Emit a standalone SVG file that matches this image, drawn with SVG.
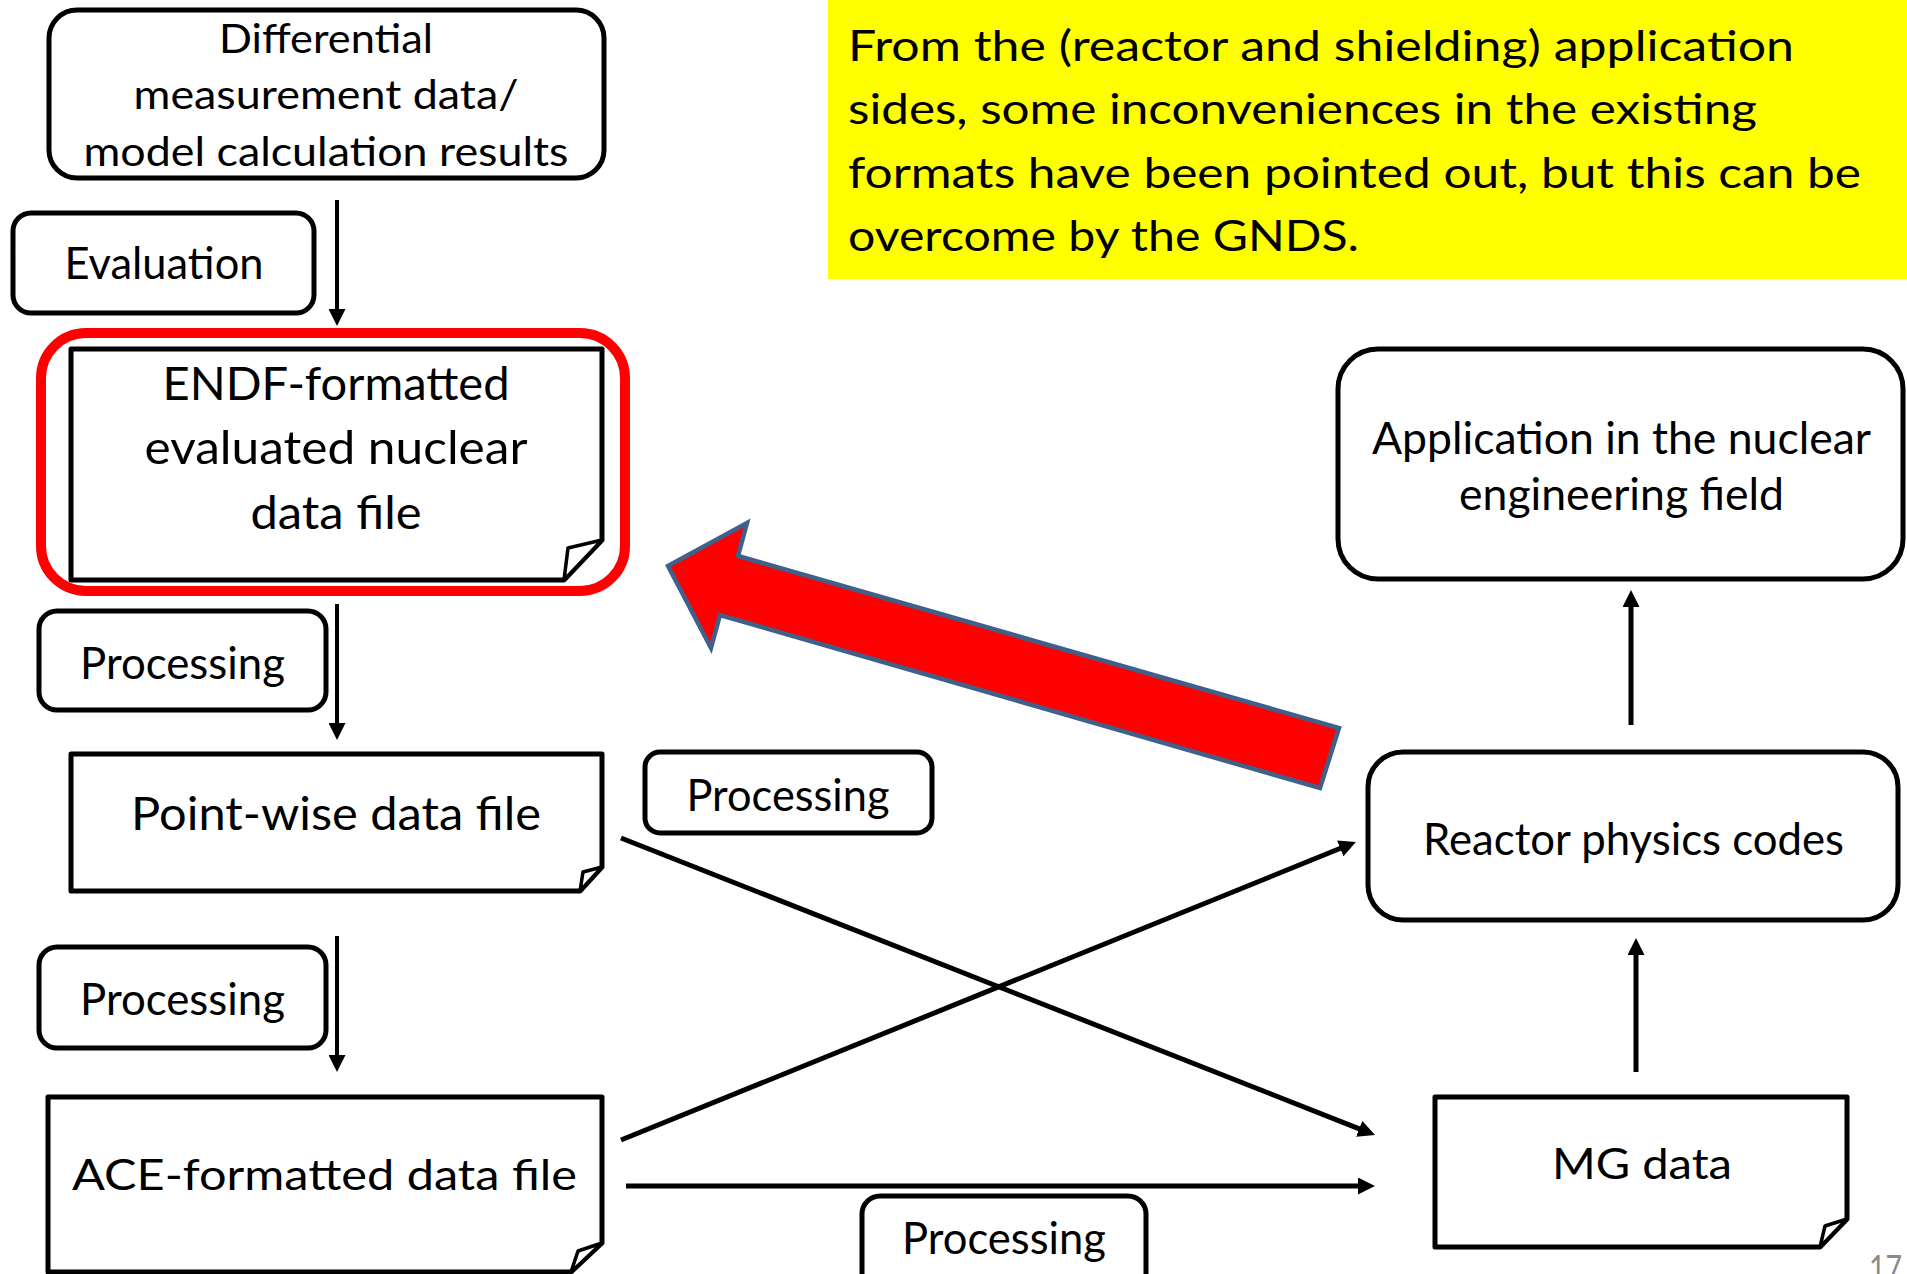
<svg xmlns="http://www.w3.org/2000/svg" width="1907" height="1274" viewBox="0 0 1907 1274">
  <style>
    .box { fill: #ffffff; stroke: #000000; stroke-width: 5; }
    .doc { fill: #ffffff; stroke: #000000; stroke-width: 5; stroke-linejoin: round; }
    .fold { fill: #ffffff; stroke: #000000; stroke-width: 3.5; stroke-linejoin: round; }
    .t { font-family: Lato, 'Liberation Sans', sans-serif; fill: #000000; text-anchor: middle; }
    .note { font-family: Lato, 'Liberation Sans', sans-serif; fill: #000000; font-size: 43px; }
    .conn { stroke: #000000; fill: none; }
    .v { stroke-width: 4; }
    .d { stroke-width: 5; }
  </style>
  <defs>
    <marker id="ah" markerUnits="userSpaceOnUse" viewBox="0 0 17 17" markerWidth="17" markerHeight="17" refX="7" refY="8.5" orient="auto">
      <path d="M0,0 L17,8.5 L0,17 Z" fill="#000000"/>
    </marker>
  </defs>

  <rect width="1907" height="1274" fill="#ffffff"/>

  <!-- remark box -->
  <g id="note">
    <rect x="828" y="0" width="1079" height="279" fill="#ffff00"/>
    <text class="note" x="848" y="61" textLength="946" lengthAdjust="spacingAndGlyphs">From the (reactor and shielding) application</text>
    <text class="note" x="848" y="124" textLength="909" lengthAdjust="spacingAndGlyphs">sides, some inconveniences in the existing</text>
    <text class="note" x="848" y="188" textLength="1013" lengthAdjust="spacingAndGlyphs">formats have been pointed out, but this can be</text>
    <text class="note" x="848" y="251" textLength="511" lengthAdjust="spacingAndGlyphs">overcome by the GNDS.</text>
  </g>

  <!-- connectors -->
  <g id="connectors">
    <path class="conn v" d="M337,200 V316" marker-end="url(#ah)"/>
    <path class="conn v" d="M337,604 V730" marker-end="url(#ah)"/>
    <path class="conn v" d="M337,936 V1062" marker-end="url(#ah)"/>
    <path class="conn d" d="M621,838 L1365.7,1131.3" marker-end="url(#ah)"/>
    <path class="conn d" d="M621,1140 L1346.7,845.8" marker-end="url(#ah)"/>
    <path class="conn d" d="M626,1186 H1365" marker-end="url(#ah)"/>
    <path class="conn d" d="M1636,1072 V948" marker-end="url(#ah)"/>
    <path class="conn d" d="M1631,725 V600" marker-end="url(#ah)"/>
  </g>

  <!-- highlight arrow pointing back to the ENDF file -->
  <g id="feedback-arrow">
    <polygon points="668,566 747,523 738,556 1339,728 1320,788 720,615 711,648" fill="#ff0000" stroke="#40608c" stroke-width="4.5" stroke-linejoin="miter"/>
  </g>

  <g id="measurement">
    <rect class="box" x="49" y="10" width="555" height="168" rx="28" ry="28"/>
    <text class="t" x="326" y="53" font-size="40" textLength="214" lengthAdjust="spacingAndGlyphs">Differential</text>
    <text class="t" x="326" y="109" font-size="40" textLength="385" lengthAdjust="spacingAndGlyphs">measurement data/</text>
    <text class="t" x="326" y="166" font-size="40" textLength="485" lengthAdjust="spacingAndGlyphs">model calculation results</text>
  </g>

  <g id="evaluation">
    <rect class="box" x="13" y="213" width="301" height="100" rx="18" ry="18"/>
    <text class="t" x="164" y="279" font-size="44" textLength="199" lengthAdjust="spacingAndGlyphs">Evaluation</text>
  </g>

  <g id="endf">
    <rect x="41" y="333" width="584" height="258" rx="45" ry="45" fill="none" stroke="#ff0000" stroke-width="10"/>
    <path class="doc" d="M71,349 H602 V540 L564,580 H71 Z"/>
    <path class="fold" d="M602,540 L568,548 L564,580 Z"/>
    <text class="t" x="336" y="400" font-size="47" textLength="347" lengthAdjust="spacingAndGlyphs">ENDF-formatted</text>
    <text class="t" x="336" y="464" font-size="47" textLength="383" lengthAdjust="spacingAndGlyphs">evaluated nuclear</text>
    <text class="t" x="336" y="529" font-size="47" textLength="171" lengthAdjust="spacingAndGlyphs">data file</text>
  </g>

  <g id="processing-1">
    <rect class="box" x="39" y="611" width="287" height="99" rx="18" ry="18"/>
    <text class="t" x="182.5" y="679" font-size="45" textLength="205" lengthAdjust="spacingAndGlyphs">Processing</text>
  </g>

  <g id="pointwise">
    <path class="doc" d="M71,754 H602 V867 L580,891 H71 Z"/>
    <path class="fold" d="M602,867 L583,872 L580,891 Z"/>
    <text class="t" x="336" y="830" font-size="47" textLength="410" lengthAdjust="spacingAndGlyphs">Point-wise data file</text>
  </g>

  <g id="processing-2">
    <rect class="box" x="645" y="752" width="287" height="81" rx="15" ry="15"/>
    <text class="t" x="788" y="811" font-size="45" textLength="203" lengthAdjust="spacingAndGlyphs">Processing</text>
  </g>

  <g id="processing-3">
    <rect class="box" x="39" y="947" width="287" height="101" rx="18" ry="18"/>
    <text class="t" x="182.5" y="1015" font-size="45" textLength="205" lengthAdjust="spacingAndGlyphs">Processing</text>
  </g>

  <g id="ace">
    <path class="doc" d="M48,1097 H602 V1243 L571,1272 H48 Z"/>
    <path class="fold" d="M602,1243 L578,1251 L571,1272 Z"/>
    <text class="t" x="324.5" y="1190" font-size="43" textLength="505" lengthAdjust="spacingAndGlyphs">ACE-formatted data file</text>
  </g>

  <g id="processing-4">
    <rect class="box" x="862" y="1196" width="284" height="100" rx="18" ry="18"/>
    <text class="t" x="1004" y="1254" font-size="45" textLength="204" lengthAdjust="spacingAndGlyphs">Processing</text>
  </g>

  <g id="application">
    <rect class="box" x="1338" y="349" width="565" height="230" rx="40" ry="40"/>
    <text class="t" x="1621.5" y="454" font-size="45" textLength="499" lengthAdjust="spacingAndGlyphs">Application in the nuclear</text>
    <text class="t" x="1621.5" y="510" font-size="45" textLength="325" lengthAdjust="spacingAndGlyphs">engineering field</text>
  </g>

  <g id="reactor-codes">
    <rect class="box" x="1368" y="752" width="530" height="168" rx="35" ry="35"/>
    <text class="t" x="1633.5" y="855" font-size="45" textLength="421" lengthAdjust="spacingAndGlyphs">Reactor physics codes</text>
  </g>

  <g id="mg-data">
    <path class="doc" d="M1435,1097 H1847 V1219 L1820,1247 H1435 Z"/>
    <path class="fold" d="M1847,1219 L1825,1226 L1820,1247 Z"/>
    <text class="t" x="1642" y="1179" font-size="43" textLength="180" lengthAdjust="spacingAndGlyphs">MG data</text>
  </g>

  <text x="1869" y="1281" font-family="Lato, 'Liberation Sans', sans-serif" font-size="36" fill="#8a8a8a" textLength="33" lengthAdjust="spacingAndGlyphs">17</text>
</svg>
